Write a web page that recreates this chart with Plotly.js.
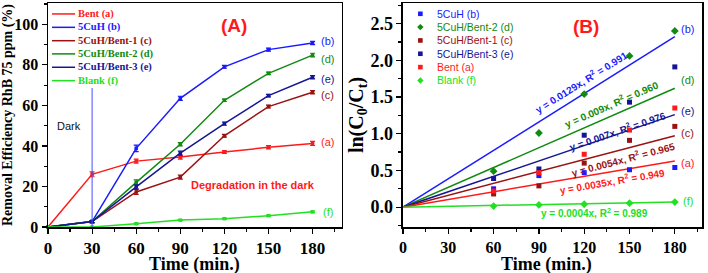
<!DOCTYPE html>
<html><head><meta charset="utf-8">
<script src="https://cdn.plot.ly/plotly-3.0.1.min.js"></script>
<style>html,body{margin:0;padding:0;background:#fff}#chart{width:708px;height:273px}</style>
</head><body><div id="chart"></div>
<script>
// ---------- Panel (A): removal efficiency ----------
const timeA   = [0, 30, 60, 90, 120, 150, 180];
const bentA   = [0, 26, 32.5, 34.5, 37, 39.3, 41.2];
const cuhA    = [0, 2.7, 38.8, 63.5, 79, 87.5, 90.8];
const bent1A  = [0, 2.7, 17.3, 24.6, 45, 59.4, 66.5];
const bent2A  = [0, 2.7, 22, 40.8, 62.5, 75.8, 84.8];
const bent3A  = [0, 2.7, 19.8, 36.4, 51, 64.8, 73.9];
const blankA  = [0, 0, 1.6, 3.4, 4.1, 5.6, 7.5];
const errBentA  = [0, 1.2, 1.0, 1.0, 0.7, 0.8, 1.0];
const errCuhA   = [0, 0.5, 1.6, 1.0, 0.7, 0.7, 0.8];
const errBent1A = [0, 0.5, 1.2, 1.0, 0.7, 0.7, 0.8];
const errBent2A = [0, 0.5, 1.2, 0.8, 0.6, 0.6, 0.9];
const errBent3A = [0, 0.5, 1.0, 1.0, 0.8, 0.6, 0.8];
const errBlankA = [0, 0, 0.3, 0.3, 0.3, 0.3, 0.4];
const namesA  = ['Bent (a)', '5CuH (b)', '5CuH/Bent-1 (c)', '5CuH/Bent-2 (d)', '5CuH/Bent-3 (e)', 'Blank (f)'];
const tagsA   = ['(a)', '(b)', '(c)', '(d)', '(e)', '(f)'];
const darkLineTop = 68.6;   // top of the "Dark" separator at t = 30 min

// ---------- Panel (B): kinetics ln(C0/Ct) ----------
const timeB   = [60, 90, 120, 150, 180];
const cuhB    = [0.25, 0.43, 0.47, 0.51, 0.54];
const bent2B  = [0.49, 1.01, 1.54, 2.06, 2.40];
const bent1B  = [0.18, 0.29, 0.60, 0.91, 1.10];
const bent3B  = [0.39, 0.52, 0.98, 1.43, 1.91];
const bentB   = [0.22, 0.47, 0.72, 1.05, 1.35];
const blankB  = [0.015, 0.03, 0.04, 0.055, 0.07];
const namesB  = ['5CuH (b)', '5CuH/Bent-2 (d)', '5CuH/Bent-1 (c)', '5CuH/Bent-3 (e)', 'Bent (a)', 'Blank (f)'];
// fitted lines  y = k x  (slopes and R² as printed on the chart)
const fitTags   = ['(b)', '(d)', '(e)', '(c)', '(a)', '(f)'];
const fitSlopes = [0.0129, 0.009, 0.007, 0.0054, 0.0035, 0.0004];
const fitR2     = ['0.991', '0.960', '0.976', '0.965', '0.949', '0.989'];
const fitXRange = [0, 180];

// ---------- styling ----------
const C = {a:'#ff1a1a', b:'#1a1aff', c:'#991111', d:'#118a11', e:'#151596', f:'#22e022'};
const colA = [C.a, C.b, C.c, C.d, C.e, C.f];
const SERIF = 'Liberation Serif, Times New Roman, serif';
const SANS = 'Liberation Sans, Arial, sans-serif';

const dataA = [bentA, cuhA, bent1A, bent2A, bent3A, blankA];
const errA = [errBentA, errCuhA, errBent1A, errBent2A, errBent3A, errBlankA];
const traces = [];
dataA.forEach((ys, i) => {
  traces.push({
    x: timeA, y: ys, type: 'scatter', mode: 'lines+markers', name: namesA[i],
    xaxis: 'x', yaxis: 'y', showlegend: false, cliponaxis: false,
    line: {color: colA[i], width: 1.5},
    marker: {symbol: 'square', size: 3.5, color: colA[i]},
    error_y: {type: 'data', array: errA[i], visible: true, color: colA[i], thickness: 1.2, width: 2.5}
  });
});

// panel B fitted lines
const fitCols = [C.b, C.d, C.e, C.c, C.a, C.f];
fitSlopes.forEach((k, i) => {
  traces.push({
    x: fitXRange, y: fitXRange.map(t => k * t), type: 'scatter', mode: 'lines',
    xaxis: 'x2', yaxis: 'y2', showlegend: false, hoverinfo: 'skip',
    line: {color: fitCols[i], width: 1.5}
  });
});
// panel B points
const dataB = [cuhB, bent2B, bent1B, bent3B, bentB, blankB];
const colB = [C.b, C.d, C.c, C.e, C.a, C.f];
const symB = ['square', 'diamond', 'square', 'square', 'square', 'diamond'];
dataB.forEach((ys, i) => {
  traces.push({
    x: timeB, y: ys, type: 'scatter', mode: 'markers', name: namesB[i],
    xaxis: 'x2', yaxis: 'y2', showlegend: false, cliponaxis: false,
    marker: {symbol: symB[i], size: symB[i] === 'diamond' ? 6 : 5, color: colB[i]}
  });
});

// ---------- annotations & shapes ----------
const ann = [];
const shapes = [];
// legend A (line samples + Times bold text)
const legAy = [105.1, 98.5, 91.9, 85.4, 78.8, 72.2];
namesA.forEach((n, i) => {
  shapes.push({type: 'line', xref: 'x', yref: 'y', x0: 2.7, x1: 18.4, y0: legAy[i], y1: legAy[i],
               line: {color: colA[i], width: 1.5}});
  ann.push({xref: 'x', yref: 'y', x: 19.1, y: legAy[i], text: '<b>' + n + '</b>', showarrow: false,
            xanchor: 'left', yanchor: 'middle', font: {family: SERIF, size: 10.5, color: colA[i]}});
});
// legend B (markers + Arial text)
const legBy = [2.633, 2.452, 2.27, 2.089, 1.907, 1.725];
namesB.forEach((n, i) => {
  if (symB[i] === 'square') {
    shapes.push({type: 'rect', xref: 'x2', yref: 'y2', xsizemode: 'pixel', ysizemode: 'pixel',
                 xanchor: 11.5, yanchor: legBy[i], x0: -2.3, x1: 2.3, y0: -2.3, y1: 2.3,
                 fillcolor: colB[i], line: {width: 0}});
  } else {
    shapes.push({type: 'path', xref: 'x2', yref: 'y2', xsizemode: 'pixel', ysizemode: 'pixel',
                 xanchor: 11.5, yanchor: legBy[i], path: 'M 0,3.2 L 3.2,0 L 0,-3.2 L -3.2,0 Z',
                 fillcolor: colB[i], line: {width: 0}});
  }
  ann.push({xref: 'x2', yref: 'y2', x: 21, y: legBy[i], text: n, showarrow: false,
            xanchor: 'left', yanchor: 'middle', font: {family: SANS, size: 10.5, color: colB[i]}});
});
// dark separator
shapes.push({type: 'line', xref: 'x', yref: 'y', x0: timeA[1], x1: timeA[1], y0: 0, y1: darkLineTop,
             line: {color: '#4a4aff', width: 1}});

// panel titles / texts
ann.push({xref: 'x', yref: 'y', x: 126.4, y: 99.3, text: '<b>(A)</b>', showarrow: false,
          font: {family: SANS, size: 19, color: '#ff1a1a'}});
ann.push({xref: 'x2', yref: 'y2', x: 121.5, y: 2.46, text: '<b>(B)</b>', showarrow: false,
          font: {family: SANS, size: 19, color: '#ff1a1a'}});
ann.push({xref: 'x', yref: 'y', x: 14.5, y: 49.6, text: 'Dark', showarrow: false,
          font: {family: SANS, size: 11, color: '#111'}});
ann.push({xref: 'x', yref: 'y', x: 139.8, y: 20.8, text: '<b>Degradation in the dark</b>', showarrow: false,
          font: {family: SANS, size: 11, color: '#ff1a1a'}});

// x-axis titles (placed as annotations so they sit below the large tick labels)
ann.push({xref: 'x domain', yref: 'paper', x: 0.5, y: -0.168, yanchor: 'middle', showarrow: false,
          text: '<b>Time (min.)</b>', font: {family: SERIF, size: 18, color: '#000'}});
ann.push({xref: 'x2 domain', yref: 'paper', x: 0.48, y: -0.168, yanchor: 'middle', showarrow: false,
          text: '<b>Time (min.)</b>', font: {family: SERIF, size: 18, color: '#000'}});

// curve tags panel A
const tagAy = [41.7, 91.9, 65.2, 82.8, 72.9, 7.2];
tagsA.forEach((t, i) => {
  ann.push({xref: 'x', yref: 'y', x: 190.2, y: tagAy[i], text: t, showarrow: false,
            font: {family: SANS, size: 11, color: colA[i]}});
});
// curve tags panel B
const tagBy = [2.425, 1.725, 1.315, 1.016, 0.60, 0.09];
fitTags.forEach((t, i) => {
  ann.push({xref: 'x2', yref: 'y2', x: 188.5, y: tagBy[i], text: t, showarrow: false,
            font: {family: SANS, size: 11, color: fitCols[i]}});
});
// fit equations
const eqX = [118, 138, 141.8, 146, 138.5, 127];
const eqY = [1.70, 1.40, 1.04, 0.65, 0.35, -0.085];
const eqAng = [-32.1, -23.6, -18.8, -14.7, -9.7, 0];
fitSlopes.forEach((k, i) => {
  ann.push({xref: 'x2', yref: 'y2', x: eqX[i], y: eqY[i], textangle: eqAng[i], showarrow: false,
            text: '<b>y = ' + k + 'x, R<sup>2</sup> = ' + fitR2[i] + '</b>',
            font: {family: SANS, size: 10, color: fitCols[i]}});
});

const axBase = {
  showline: true, mirror: true, linecolor: '#000', linewidth: 1.5, showgrid: false, zeroline: false,
  ticks: 'outside', ticklen: 5, tickwidth: 1.2, tickcolor: '#000'
};
const layout = {
  width: 708, height: 273, paper_bgcolor: '#fff', plot_bgcolor: '#fff',
  margin: {l: 48, r: 6, t: 3, b: 46}, showlegend: false,
  xaxis: Object.assign({}, axBase, {domain: [0, 0.4495], range: [0, 200], dtick: 30, tick0: 0,
    minor: {dtick: 15, ticks: 'outside', ticklen: 3, tickcolor: '#000'},
    tickfont: {family: SERIF, size: 17, color: '#000', weight: 'bold'}}),
  yaxis: Object.assign({}, axBase, {domain: [0, 1], range: [0, 110.5], dtick: 20, tick0: 0,
    minor: {dtick: 10, ticks: 'outside', ticklen: 3, tickcolor: '#000'},
    tickfont: {family: SERIF, size: 16, color: '#000', weight: 'bold'},
    title: {text: '<b>Removal Efficiency RhB 75 ppm (%)</b>', font: {family: SERIF, size: 14, color: '#000'}, standoff: 4}}),
  xaxis2: Object.assign({}, axBase, {domain: [0.5428, 1], range: [0, 198], dtick: 30, tick0: 0, anchor: 'y2',
    minor: {dtick: 15, ticks: 'outside', ticklen: 3, tickcolor: '#000'},
    tickfont: {family: SERIF, size: 16, color: '#000', weight: 'bold'}}),
  yaxis2: Object.assign({}, axBase, {domain: [0, 1], range: [-0.27, 2.78], dtick: 0.5, tick0: 0, anchor: 'x2',
    tickformat: '.1f',
    minor: {dtick: 0.25, ticks: 'outside', ticklen: 3, tickcolor: '#000'},
    tickfont: {family: SERIF, size: 18, color: '#000', weight: 'bold'},
    title: {text: '<b>ln(C<sub>0</sub>/C<sub>t</sub>)</b>', font: {family: SERIF, size: 20, color: '#000'}, standoff: 0}}),
  annotations: ann, shapes: shapes
};
Plotly.newPlot('chart', traces, layout, {displayModeBar: false, staticPlot: true});
</script></body></html>
